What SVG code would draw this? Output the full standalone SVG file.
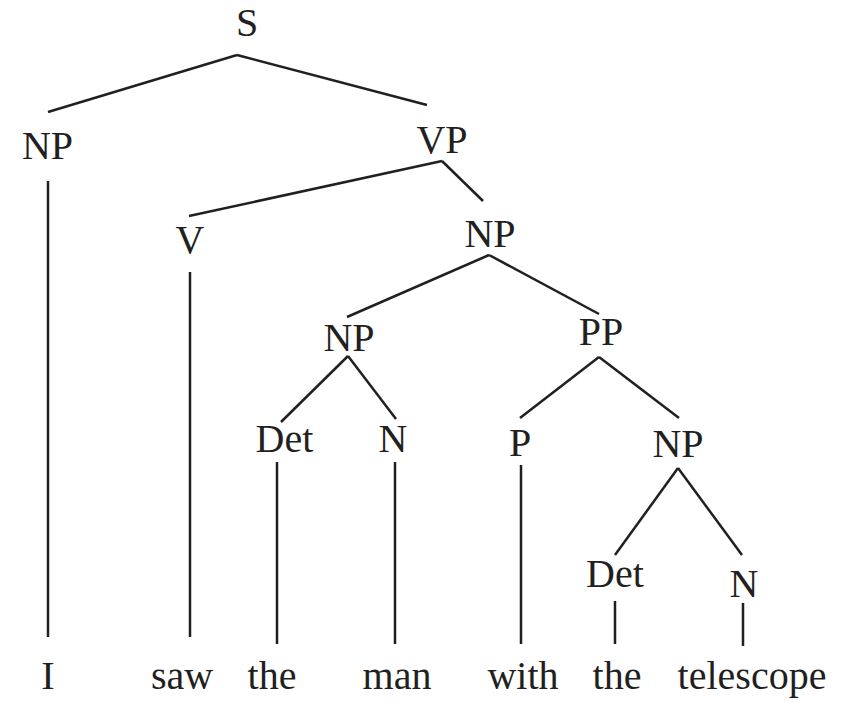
<svg xmlns="http://www.w3.org/2000/svg" width="851" height="702" viewBox="0 0 851 702">
<style>
text{font-family:"Liberation Serif","Times New Roman",serif;font-size:40px;fill:#231f20;text-anchor:middle}
line{stroke:#231f20;stroke-width:2.5;stroke-linecap:butt}
</style>
<rect width="851" height="702" fill="#fff"/>
<g id="connectors">
<line x1="237" y1="55" x2="48" y2="112"/>
<line x1="237" y1="55" x2="427" y2="105"/>
<line x1="48" y1="181" x2="48" y2="637"/>
<line x1="442" y1="161" x2="189" y2="216"/>
<line x1="442" y1="161" x2="483" y2="201"/>
<line x1="190" y1="272" x2="190" y2="637"/>
<line x1="489" y1="255" x2="347" y2="317"/>
<line x1="489" y1="255" x2="599" y2="314"/>
<line x1="348" y1="356" x2="281" y2="422"/>
<line x1="348" y1="356" x2="396" y2="419"/>
<line x1="277" y1="462" x2="277" y2="644"/>
<line x1="395" y1="462" x2="395" y2="644"/>
<line x1="599" y1="357" x2="520" y2="418"/>
<line x1="599" y1="357" x2="679" y2="418"/>
<line x1="521" y1="465" x2="521" y2="644"/>
<line x1="678" y1="468" x2="615" y2="555"/>
<line x1="678" y1="468" x2="742" y2="555"/>
<line x1="615" y1="601" x2="615" y2="644"/>
<line x1="743" y1="603" x2="743" y2="646"/>
</g>
<g id="n-S"><text x="247" y="36">S</text></g>
<g id="n-NP1"><text x="47.5" y="159">NP</text></g>
<g id="n-VP"><text x="442" y="153">VP</text></g>
<g id="n-V"><text x="190" y="253">V</text></g>
<g id="n-NP2"><text x="490" y="247">NP</text></g>
<g id="n-NP3"><text x="349" y="351">NP</text></g>
<g id="n-PP"><text x="601" y="345">PP</text></g>
<g id="n-Det1"><text x="284.5" y="452">Det</text></g>
<g id="n-N1"><text x="393" y="452">N</text></g>
<g id="n-P"><text x="520" y="456">P</text></g>
<g id="n-NP4"><text x="678" y="457">NP</text></g>
<g id="n-Det2"><text x="615" y="587">Det</text></g>
<g id="n-N2"><text x="744" y="597">N</text></g>
<g id="w-I"><text x="48" y="689">I</text></g>
<g id="w-saw"><text x="182" y="689">saw</text></g>
<g id="w-the1"><text x="272" y="689">the</text></g>
<g id="w-man"><text x="397" y="689">man</text></g>
<g id="w-with"><text x="523" y="689">with</text></g>
<g id="w-the2"><text x="617" y="689">the</text></g>
<g id="w-telescope"><text x="752" y="689">telescope</text></g>
</svg>
